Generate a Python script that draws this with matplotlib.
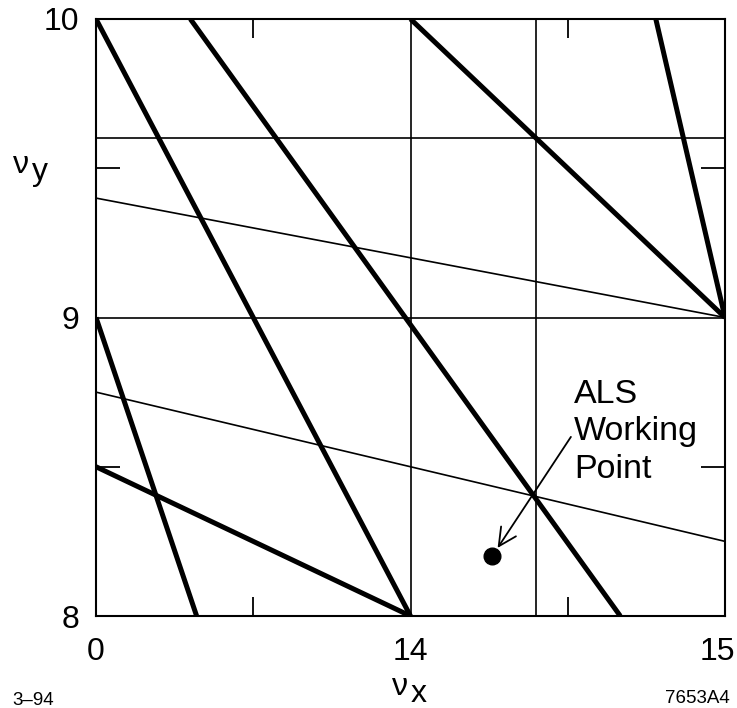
import matplotlib
matplotlib.use("Agg")
import matplotlib.pyplot as plt
import matplotlib.transforms as mtransforms

plt.rcParams['font.family'] = ['Liberation Sans', 'DejaVu Sans']

# tune plane limits
x_min, x_max = 13.0, 15.0
y_min, y_max = 8.0, 10.0

# strong resonance lines (thick), given by their two end points
thick_x0 = [13.0, 13.0, 13.0, 13.3, 14.0, 14.78]
thick_y0 = [10.0, 9.0, 8.5, 10.0, 10.0, 10.0]
thick_x1 = [14.0, 13.32, 14.0, 14.667, 15.0, 15.0]
thick_y1 = [8.0, 8.0, 8.0, 8.0, 9.0, 9.0]

# weaker resonance lines (thin)
vert_x = [14.0, 14.4]
horiz_y = [9.0, 9.6]
thin_x0 = [13.0, 13.0]
thin_y0 = [9.4, 8.75]
thin_x1 = [15.0, 15.0]
thin_y1 = [9.0, 8.25]

# operating tune
work_x, work_y = 14.26, 8.2

xtick_pos = [13.0, 14.0, 15.0]
xtick_lab = ["0", "14", "15"]
ytick_pos = [8.0, 9.0, 10.0]
ytick_lab = ["8", "9", "10"]
minor_x = [13.5, 14.5]
minor_y = [8.5, 9.5]

W, H = 737, 708
fig = plt.figure(figsize=(W / 100, H / 100), dpi=100)
ax = fig.add_axes([96 / W, 1 - 616 / H, 629 / W, 597 / H])
ax.set_xlim(x_min, x_max)
ax.set_ylim(y_min, y_max)

for x in vert_x:
    ax.axvline(x, color='black', lw=1.2)
for y in horiz_y:
    ax.axhline(y, color='black', lw=1.2)
for xa, ya, xb, yb in zip(thin_x0, thin_y0, thin_x1, thin_y1):
    ax.plot([xa, xb], [ya, yb], color='black', lw=1.2)
for xa, ya, xb, yb in zip(thick_x0, thick_y0, thick_x1, thick_y1):
    ax.plot([xa, xb], [ya, yb], color='black', lw=3.6, solid_capstyle='butt')

ax.plot(work_x, work_y, 'o', color='black', ms=12, zorder=5)
ax.annotate('', xy=(14.277, 8.228), xytext=(14.51, 8.6),
            arrowprops=dict(arrowstyle='->', lw=1.3, color='black',
                            mutation_scale=32, shrinkA=0, shrinkB=0))
# multi-line baseline alignment goes by the last line
ax.text(14.52, 8.463, "ALS\nWorking\nPoint", fontsize=24.5, ha='left',
        va='baseline', linespacing=1.27)

for s in ax.spines.values():
    s.set_linewidth(1.5)

ax.set_xticks(xtick_pos, xtick_lab)
ax.set_yticks(ytick_pos, ytick_lab)
ax.set_xticks(minor_x, minor=True)
ax.set_yticks(minor_y, minor=True)
ax.tick_params(which='major', length=0, labelsize=23)
ax.tick_params(axis='x', which='major', pad=15)
ax.tick_params(axis='y', which='major', pad=12)
ax.tick_params(which='minor', direction='in', top=True, right=True, width=1.3)
ax.tick_params(axis='x', which='minor', length=14)
ax.tick_params(axis='y', which='minor', length=17)

# pull the last x label in from the figure edge
last = ax.get_xticklabels()[-1]
last.set_transform(last.get_transform() +
                   mtransforms.ScaledTranslation(-0.08, 0, fig.dpi_scale_trans))

# axis labels: nu with a same-size, lowered subscript
fig.text(400 / W, 1 - 695 / H, "ν", fontsize=23, ha='center', va='baseline')
fig.text(411 / W, 1 - 702 / H, "x", fontsize=23, ha='left', va='baseline')
fig.text(13 / W, 1 - 173 / H, "ν", fontsize=23, ha='left', va='baseline')
fig.text(32 / W, 1 - 180 / H, "y", fontsize=23, ha='left', va='baseline')

fig.text(12 / W, 1 - 705 / H, "3–94", fontsize=13.5, ha='left', va='baseline')
fig.text(730 / W, 1 - 703 / H, "7653A4", fontsize=13.5, ha='right', va='baseline')

fig.savefig("out.png", dpi=100)
